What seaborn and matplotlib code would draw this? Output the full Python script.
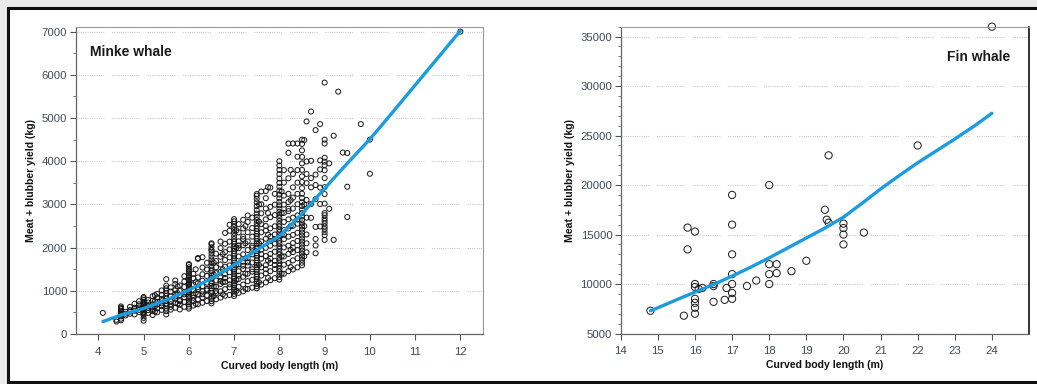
import matplotlib
matplotlib.use("Agg")
import matplotlib.pyplot as plt
from matplotlib.patches import Rectangle
from matplotlib.ticker import MultipleLocator, FixedLocator
import pandas as pd
import seaborn as sns

# ---------------------------------------------------------------- data
# Minke whale: curved body length (m) and meat + blubber yield (kg),
# one row per length class
minke_rows = [
    (4.1, [490]),
    (4.4, [330, 290]),
    (4.5, [320, 355, 410, 445, 470, 505, 530, 575, 610, 640, 590]),
    (4.6, [430, 515, 470]),
    (4.7, [470, 555, 630, 520]),
    (4.8, [455, 540, 610, 700, 580]),
    (4.9, [510, 615, 690, 760, 560]),
    (5.0, [310, 375, 440, 465, 505, 520, 560, 585, 620, 655, 680, 705, 745, 790,
           830, 860, 600, 720]),
    (5.1, [490, 555, 650, 730, 790, 610]),
    (5.2, [440, 530, 625, 690, 770, 875, 580]),
    (5.25, [520, 640, 760, 900]),
    (5.3, [505, 595, 685, 745, 850, 930]),
    (5.4, [560, 645, 710, 815, 905, 1010, 760]),
    (5.5, [455, 530, 590, 650, 705, 770, 820, 880, 945, 1005, 1060, 1120, 1270, 690]),
    (5.6, [565, 690, 760, 870, 985, 1080, 630]),
    (5.7, [610, 725, 815, 930, 1015, 1160, 1240, 870]),
    (5.75, [700, 950, 1100]),
    (5.8, [570, 690, 790, 905, 1000, 1125, 760]),
    (5.9, [630, 745, 850, 970, 1090, 1215, 1340, 920]),
    (6.0, [590, 635, 690, 740, 775, 830, 870, 915, 960, 1010, 1045, 1090, 1135,
           1185, 1230, 1270, 1320, 1365, 1410, 1460, 1500, 1545, 1600, 1620, 980, 1160]),
    (6.1, [660, 770, 905, 1010, 1145, 1290, 1395, 840]),
    (6.15, [700, 950, 1200, 1500]),
    (6.2, [690, 805, 915, 1035, 1175, 1310, 1760, 1740, 1090]),
    (6.3, [725, 850, 990, 1110, 1235, 1385, 1540, 1780, 920]),
    (6.4, [765, 895, 1045, 1190, 1345, 1495, 1650, 1010]),
    (6.5, [710, 760, 815, 870, 945, 1000, 1060, 1115, 1170, 1225, 1290, 1350, 1410,
           1465, 1530, 1590, 1660, 1730, 1800, 1870, 1940, 2010, 2080, 2100, 1950]),
    (6.55, [880, 1100, 1380, 1650]),
    (6.6, [805, 945, 1095, 1240, 1410, 1545, 1690, 1860, 1000]),
    (6.7, [845, 990, 1160, 1310, 1440, 1610, 1790, 1990, 2140, 1230]),
    (6.75, [920, 1200, 1500, 1850]),
    (6.8, [885, 1040, 1210, 1385, 1560, 1715, 1895, 2090, 2340, 1300]),
    (6.9, [905, 1085, 1245, 1430, 1590, 1775, 1960, 2140, 2390, 2530, 1150]),
    (7.0, [880, 930, 985, 1030, 1075, 1130, 1175, 1225, 1290, 1335, 1390, 1445,
           1490, 1540, 1600, 1650, 1700, 1755, 1810, 1860, 1920, 1975, 2030, 2090,
           2140, 2200, 2270, 2340, 2410, 2480, 2550, 2610, 2660]),
    (7.05, [1000, 1250, 1600, 2000, 2400]),
    (7.1, [955, 1095, 1275, 1455, 1615, 1795, 1985, 2145, 2355, 2545, 1350, 2050]),
    (7.2, [990, 1145, 1325, 1505, 1675, 1845, 2055, 2255, 2445, 2645, 1580, 2200]),
    (7.25, [1050, 1400, 1750, 2100, 2500]),
    (7.3, [1045, 1225, 1395, 1585, 1755, 1945, 2145, 2355, 2595, 2745, 1660]),
    (7.4, [1075, 1255, 1445, 1655, 1845, 2045, 2255, 2455, 2695, 2000, 1500]),
    (7.5, [1060, 1110, 1165, 1215, 1270, 1330, 1385, 1440, 1490, 1545, 1600, 1650,
           1705, 1760, 1815, 1870, 1925, 1980, 2040, 2095, 2150, 2210, 2265, 2320,
           2380, 2440, 2500, 2570, 2640, 2710, 2790, 2870, 2960, 3050, 3130, 3200, 3240]),
    (7.55, [1200, 1600, 2100, 2600, 3000]),
    (7.6, [1145, 1355, 1545, 1745, 1955, 2145, 2355, 2545, 2795, 3005, 3300, 1850]),
    (7.7, [1195, 1405, 1595, 1805, 1995, 2205, 2395, 2655, 2905, 3145, 3310, 1500, 2500]),
    (7.75, [1300, 1700, 2300, 2800, 3400]),
    (7.8, [1245, 1455, 1645, 1855, 2045, 2255, 2445, 2705, 2945, 3390, 1750, 2150]),
    (7.9, [1295, 1505, 1695, 1905, 2095, 2305, 2495, 2755, 2995, 3245, 1600, 2200]),
    (8.0, [1260, 1320, 1390, 1450, 1510, 1580, 1640, 1710, 1770, 1840, 1900, 1970,
           2030, 2100, 2160, 2230, 2290, 2360, 2420, 2490, 2550, 2620, 2690, 2760,
           2830, 2900, 2980, 3060, 3140, 3230, 3320, 3410, 3500, 3600, 3700, 3800,
           3900, 4000]),
    (8.05, [1400, 1800, 2300, 2800, 3300]),
    (8.1, [1395, 1605, 1795, 2005, 2195, 2405, 2595, 2805, 2995, 3205, 3505, 3795, 2300]),
    (8.2, [1455, 1645, 1855, 2045, 2255, 2445, 2655, 2845, 3055, 3245, 3605, 4195,
           4410, 2900]),
    (8.25, [1550, 1950, 2500, 3100, 3800]),
    (8.3, [1495, 1705, 1895, 2105, 2295, 2505, 2695, 2905, 3155, 3395, 3705, 4410, 2000]),
    (8.4, [1545, 1755, 1945, 2155, 2345, 2555, 2745, 3005, 3245, 3505, 3795, 4105,
           4410, 2650]),
    (8.5, [1590, 1650, 1720, 1790, 1860, 1930, 2000, 2070, 2140, 2210, 2280, 2350,
           2420, 2490, 2560, 2640, 2720, 2800, 2880, 2960, 3050, 3150, 3250, 3380,
           3520, 3650, 3800, 3950, 4100, 4250, 4400, 4500]),
    (8.55, [1800, 2500, 3000, 4490]),
    (8.6, [1895, 2305, 2695, 3105, 3495, 3705, 3995, 4920, 2100]),
    (8.7, [2690, 3010, 3395, 3610, 4010, 5150]),
    (8.8, [1870, 2050, 2200, 2480, 3120, 3450, 3690, 4720]),
    (8.9, [2490, 3010, 3390, 3810, 4020, 4860]),
    (9.0, [2180, 2290, 2360, 2430, 2490, 2560, 2620, 2680, 2750, 2800, 3020, 3240,
           3400, 3610, 3790, 3910, 3990, 4080, 4410, 4500, 5820]),
    (9.1, [2900, 3950]),
    (9.2, [2180, 4590]),
    (9.3, [5610]),
    (9.4, [4200]),
    (9.5, [2710, 3410, 4190]),
    (9.8, [4860]),
    (10.0, [3710, 4500]),
    (12.0, [7000]),
]

# fitted yield curve, minke whale
minke_fit_length = [4.1, 4.5, 5.0, 5.5, 6.0, 6.5, 7.0, 7.5, 8.0, 8.5, 9.0,
                    9.5, 10.0, 10.5, 11.0, 11.5, 12.0]
minke_fit_yield = [290, 440, 594, 787, 1018, 1290, 1597, 1944, 2270, 2780, 3370,
                   3950, 4510, 5130, 5760, 6390, 7020]

# Fin whale observations
fin_length = [14.8, 15.7, 15.8, 15.8, 16.0, 16.0, 16.0, 16.1, 16.0, 16.0, 16.0,
              16.0, 16.2, 16.5, 16.5, 16.5, 16.8, 16.85, 17.0, 17.0, 17.0, 17.0,
              17.0, 17.0, 17.0, 17.4, 17.65, 18.0, 18.0, 18.0, 18.0, 18.2, 18.2,
              18.6, 19.0, 19.5, 19.55, 19.6, 19.6, 20.0, 20.0, 20.0, 20.0, 20.55,
              22.0, 24.0]
fin_yield = [7300, 6800, 15700, 13500, 15300, 10000, 9700, 9500, 8500, 8100,
             7600, 7000, 9600, 10000, 9800, 8200, 8400, 9600, 19000, 16000,
             13000, 11000, 10000, 9100, 8500, 9800, 10350, 20000, 12000, 11000,
             10000, 12000, 11100, 11300, 12350, 17500, 16500, 23000, 16200,
             16100, 15650, 15000, 14000, 15200, 24000, 36000]

# fitted yield curve, fin whale
fin_fit_length = [14.8, 15.0, 15.5, 16.0, 16.5, 17.0, 17.5, 18.0, 18.5, 19.0,
                  19.5, 20.0, 20.5, 21.0, 21.5, 22.0, 22.5, 23.0, 23.5, 24.0]
fin_fit_yield = [7300, 7600, 8400, 9180, 9950, 10800, 11700, 12650, 13650, 14650,
                 15650, 16750, 18150, 19600, 20950, 22250, 23450, 24650, 25900, 27250]

minke_ticks = [4, 5, 6, 7, 8, 9, 10, 11, 12]
fin_ticks = [14, 15, 16, 17, 18, 19, 20, 21, 22, 23, 24]

minke = pd.DataFrame(
    [(length, y) for length, ys in minke_rows for y in ys],
    columns=["length", "yield"],
)
minke_fit = pd.DataFrame({"length": minke_fit_length, "yield": minke_fit_yield})
fin = pd.DataFrame({"length": fin_length, "yield": fin_yield})
fin_fit = pd.DataFrame({"length": fin_fit_length, "yield": fin_fit_yield})

# ---------------------------------------------------------------- style
sns.set_theme(style="white")
plt.rcParams["font.family"] = ["Liberation Sans", "DejaVu Sans"]

FIT_BLUE = "#1b9be0"
TICK_GREY = "#3e4a56"
GRID_GREY = "#cccccc"

fig = plt.figure(figsize=(10.37, 3.84), dpi=100)
fig.patch.set_facecolor("#ececec")
# white panel with dark frame, kept behind both axes
frame = Rectangle((8 / 1037, 2 / 384), 1.05, 374 / 384,
                  transform=fig.transFigure, facecolor="white",
                  edgecolor="#111111", linewidth=2.2, zorder=-10)
fig.patches.append(frame)

ax1 = fig.add_axes([0.073, 0.130, 0.3928, 0.799])
ax2 = fig.add_axes([0.5986, 0.1315, 0.3937, 0.799])

grid_dash = (0, [1, 1] * 12 + [1, 7])


def style_axes(ax, xticks, ymajor, yminor, right_dark=False):
    ax.set_facecolor("white")
    ax.yaxis.set_major_locator(MultipleLocator(ymajor))
    ax.yaxis.set_minor_locator(MultipleLocator(yminor))
    ax.xaxis.set_major_locator(FixedLocator(xticks))
    ax.tick_params(axis="both", which="major", direction="out", length=4,
                   width=0.8, color="#555555", labelsize=8.2,
                   labelcolor=TICK_GREY, left=True, bottom=True, pad=2)
    ax.tick_params(axis="y", which="minor", direction="out", length=2.5,
                   width=0.6, color="#666666", left=True)
    ax.tick_params(axis="x", which="major", pad=5)
    lo, hi = ax.get_ylim()
    for y in ax.get_yticks():
        if lo <= y <= hi:
            ax.axhline(y, color=GRID_GREY, linewidth=0.8, linestyle=grid_dash,
                       zorder=0.5)
    for side in ["left", "bottom"]:
        ax.spines[side].set_color("#666666")
        ax.spines[side].set_linewidth(0.9)
    ax.spines["top"].set_color("#999999")
    ax.spines["top"].set_linewidth(0.8)
    ax.spines["right"].set_color("#111111" if right_dark else "#999999")
    ax.spines["right"].set_linewidth(1.2 if right_dark else 0.8)
    ax.set_xlabel("Curved body length (m)", fontsize=7.6, fontweight="bold",
                  color="#111111", labelpad=3)
    ax.set_ylabel("Meat + blubber yield (kg)", fontsize=7.6, fontweight="bold",
                  color="#111111", labelpad=4)


# ---------------------------------------------------------------- minke whale
sns.scatterplot(data=minke, x="length", y="yield", ax=ax1, marker="o", s=13,
                facecolor="none", edgecolor="#151515", linewidth=0.7, zorder=2)
sns.lineplot(data=minke_fit, x="length", y="yield", ax=ax1, color=FIT_BLUE,
             linewidth=2.4, zorder=3, sort=True, estimator=None)
ax1.set_xlim(3.5, 12.5)
ax1.set_ylim(0, 7100)
style_axes(ax1, minke_ticks, 1000, 500)
ax1.text(0.035, 0.918, "Minke whale", transform=ax1.transAxes, fontsize=10,
         fontweight="bold", color="#1a1a1a", va="center", ha="left")

# ---------------------------------------------------------------- fin whale
sns.scatterplot(data=fin, x="length", y="yield", ax=ax2, marker="o", s=27,
                facecolor="none", edgecolor="#1a1a1a", linewidth=0.7, zorder=2,
                clip_on=False)
sns.lineplot(data=fin_fit, x="length", y="yield", ax=ax2, color=FIT_BLUE,
             linewidth=2.4, zorder=3, sort=True, estimator=None)
ax2.set_xlim(14, 25)
ax2.set_ylim(5000, 36000)
style_axes(ax2, fin_ticks, 5000, 1000, right_dark=True)
ax2.text(0.955, 0.902, "Fin whale", transform=ax2.transAxes, fontsize=10,
         fontweight="bold", color="#1a1a1a", va="center", ha="right")

fig.savefig("out.png", dpi=100, facecolor=fig.get_facecolor())
